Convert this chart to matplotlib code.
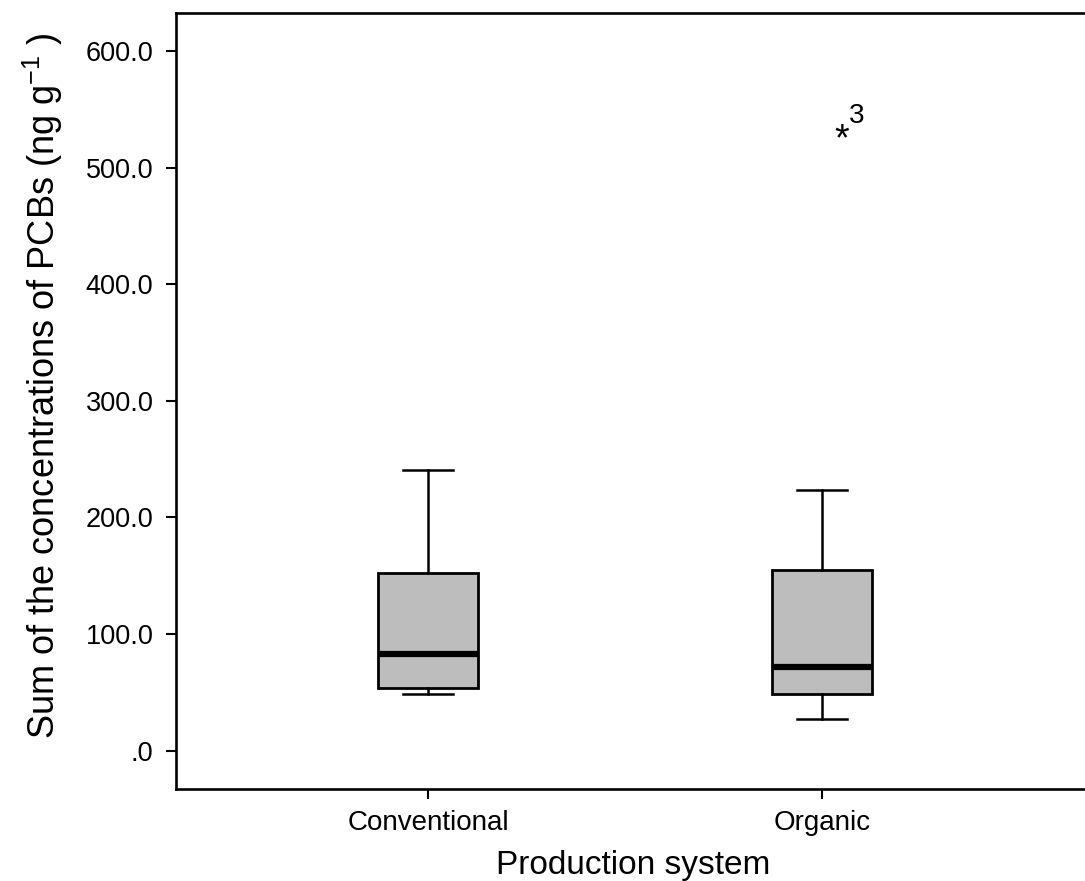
import numpy as np
import matplotlib
matplotlib.use('Agg')
import matplotlib.pyplot as plt
from matplotlib import font_manager

#----------- DATA -----------#
groups = ['Conventional', 'Organic']
whislo = [48.3, 27.1]
q1 = [53.7, 48.3]
med = [83.0, 71.7]
q3 = [152.0, 154.9]
whishi = [240.6, 223.7]
outlier_val = 532.0
outlier_id = '3'

yticks = [0, 100, 200, 300, 400, 500, 600]
ytick_labels = ['.0', '100.0', '200.0', '300.0', '400.0', '500.0', '600.0']

plt.rcParams['font.family'] = ['Liberation Sans', 'DejaVu Sans']
plt.rcParams['mathtext.fontset'] = 'custom'
plt.rcParams['mathtext.rm'] = 'Liberation Sans'
plt.rcParams['mathtext.default'] = 'regular'

# the axis title in the original is a bit condensed
names = set(f.name for f in font_manager.fontManager.ttflist)
if 'Liberation Sans Narrow' in names:
    ylab_font, ylab_size = 'Liberation Sans Narrow', 31
else:
    ylab_font, ylab_size = 'Liberation Sans', 26

fig = plt.figure(figsize=(10.85, 8.81), dpi=100)
ax = fig.add_axes([0.1622, 0.1044, 0.8424, 0.8808])

stats = []
for i in range(len(groups)):
    stats.append(dict(label=groups[i], whislo=whislo[i], q1=q1[i], med=med[i],
                      q3=q3[i], whishi=whishi[i], fliers=[]))

ax.bxp(stats, positions=[1, 2], widths=0.254, patch_artist=True, showfliers=False,
       boxprops=dict(facecolor='#bdbdbd', edgecolor='black', linewidth=2.0),
       medianprops=dict(color='black', linewidth=4.5, solid_capstyle='butt'),
       whiskerprops=dict(color='black', linewidth=1.8),
       capprops=dict(color='black', linewidth=1.8),
       capwidths=0.127)

# extreme value marked with an asterisk and its case number
ax.annotate('*', xy=(2, outlier_val), xytext=(20, -10), textcoords='offset pixels',
            ha='center', va='center', fontsize=27)
ax.annotate(outlier_id, xy=(2, outlier_val), xytext=(35, 14), textcoords='offset pixels',
            ha='center', va='center', fontsize=20)

ax.set_xlim(0.36, 2.68)
ax.set_ylim(-33, 632.6)
ax.set_yticks(yticks)
ax.set_yticklabels(ytick_labels)
ax.set_xticks([1, 2])
ax.set_xticklabels(groups)

for s in ax.spines.values():
    s.set_linewidth(1.9)
ax.tick_params(axis='both', direction='out', length=7.2, width=1.5)
ax.tick_params(axis='y', labelsize=19.5, pad=9)
ax.tick_params(axis='x', labelsize=20, pad=8)

ax.set_xlabel('Production system', fontsize=24, labelpad=10)
ax.set_ylabel('Sum of the concentrations of PCBs (ng g$^{-1}$ )',
              fontsize=ylab_size, family=ylab_font)
ax.yaxis.set_label_coords(-0.1216, 0.52)

fig.savefig('out.png', dpi=100)
